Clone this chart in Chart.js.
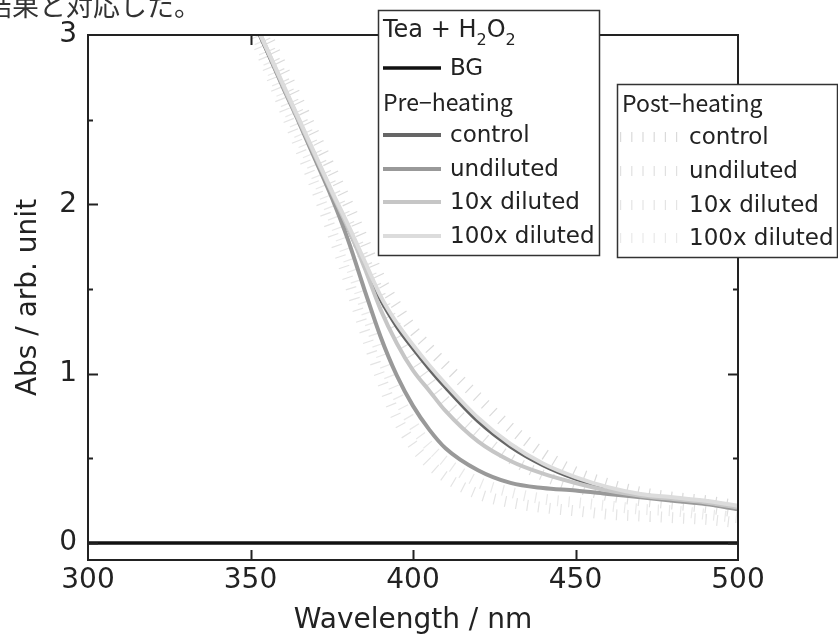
<!DOCTYPE html>
<html>
<head>
<meta charset="utf-8">
<script src="https://cdn.jsdelivr.net/npm/chart.js@4.4.1/dist/chart.umd.min.js"></script>
<style>
  html, body { margin: 0; padding: 0; background: #fff; overflow: hidden; }
  canvas { display: block; }
</style>
</head>
<body>
<canvas id="chart" width="838" height="644"></canvas>
<script>
// wavelength grid (nm) shared by the spectra
const wavelengths = [350, 355, 360, 365, 370, 375, 380, 385, 390, 395, 400, 405, 410, 420, 430, 440, 450, 460, 470, 480, 490, 500];

// background line
const bgWavelengths = [300, 500];
const bgValues = [0, 0];

// pre-heating spectra
const preControl = [3.12, 2.91, 2.70, 2.49, 2.28, 2.07, 1.86, 1.65, 1.44, 1.28, 1.15, 1.03, 0.92, 0.72, 0.57, 0.46, 0.38, 0.32, 0.285, 0.265, 0.245, 0.215];
const preUndiluted = [3.13, 2.91, 2.69, 2.48, 2.26, 2.04, 1.79, 1.50, 1.22, 0.99, 0.81, 0.67, 0.56, 0.43, 0.355, 0.325, 0.31, 0.29, 0.27, 0.25, 0.23, 0.20];
const pre10x = [3.13, 2.92, 2.70, 2.49, 2.28, 2.07, 1.86, 1.63, 1.38, 1.18, 1.02, 0.90, 0.78, 0.60, 0.485, 0.41, 0.355, 0.31, 0.28, 0.26, 0.24, 0.21];
const pre100x = [3.13, 2.92, 2.71, 2.50, 2.29, 2.08, 1.88, 1.67, 1.46, 1.30, 1.17, 1.05, 0.94, 0.74, 0.585, 0.47, 0.39, 0.33, 0.29, 0.27, 0.25, 0.22];

// post-heating spectra
const postControl = [3.20, 3.00, 2.80, 2.60, 2.40, 2.20, 2.00, 1.78, 1.56, 1.40, 1.26, 1.15, 1.05, 0.86, 0.68, 0.53, 0.42, 0.35, 0.30, 0.27, 0.25, 0.22];
const postUndiluted = [3.15, 2.95, 2.74, 2.53, 2.32, 2.11, 1.90, 1.68, 1.46, 1.27, 1.10, 0.96, 0.84, 0.65, 0.50, 0.40, 0.33, 0.28, 0.25, 0.23, 0.21, 0.18];
const post10x = [3.05, 2.82, 2.58, 2.34, 2.10, 1.84, 1.56, 1.26, 0.98, 0.74, 0.58, 0.47, 0.39, 0.29, 0.24, 0.21, 0.19, 0.17, 0.16, 0.15, 0.14, 0.12];
const post100x = [3.08, 2.86, 2.63, 2.41, 2.18, 1.94, 1.68, 1.40, 1.12, 0.88, 0.70, 0.57, 0.48, 0.36, 0.30, 0.26, 0.24, 0.22, 0.20, 0.19, 0.17, 0.15];

const seriesLabels = ['control', 'undiluted', '10x diluted', '100x diluted'];
const xTickValues = [300, 350, 400, 450, 500];
const xTickLabels = ['300', '350', '400', '450', '500'];
const yTickValues = [0, 1, 2, 3];
const yTickLabels = ['0', '1', '2', '3'];

const FONT = '"DejaVu Sans", sans-serif';
const JFONT = '"Noto Sans CJK JP", sans-serif';

function pts(xs, ys) {
  return xs.map((x, i) => ({ x: x, y: ys[i] }));
}

function solid(label, ys, color, order) {
  return {
    label: label, data: pts(wavelengths, ys), group: 'pre',
    borderColor: color, borderWidth: 4, order: order,
    cubicInterpolationMode: 'monotone'
  };
}

function hatched(label, ys, color, order) {
  return {
    label: label, data: pts(wavelengths, ys), group: 'post',
    borderColor: color, borderWidth: 11, borderDash: [1.2, 10], borderCapStyle: 'butt',
    order: order, cubicInterpolationMode: 'monotone'
  };
}

const datasets = [
  { label: 'BG', data: pts(bgWavelengths, bgValues), group: 'bg', borderColor: '#111', borderWidth: 3.5, order: 0 },
  solid(seriesLabels[3], pre100x, '#dcdcdc', 1),
  solid(seriesLabels[2], pre10x, '#c6c6c6', 2),
  solid(seriesLabels[1], preUndiluted, '#999999', 3),
  solid(seriesLabels[0], preControl, '#666666', 4),
  hatched(seriesLabels[0], postControl, '#dadada', 5),
  hatched(seriesLabels[1], postUndiluted, '#e0e0e0', 6),
  hatched(seriesLabels[2], post10x, '#e4e4e4', 7),
  hatched(seriesLabels[3], post100x, '#e9e9e9', 8)
];

// frame and inward ticks
const framePlugin = {
  id: 'frame',
  afterDatasetsDraw(chart) {
    const { ctx, chartArea: a, scales: { x, y } } = chart;
    ctx.save();
    ctx.strokeStyle = '#222';
    ctx.lineWidth = 2;
    ctx.strokeRect(a.left, a.top, a.right - a.left, a.bottom - a.top);
    ctx.beginPath();
    x.ticks.forEach(t => {
      if (t.value <= x.min || t.value >= x.max) return;
      const px = Math.round(x.getPixelForValue(t.value)) + 0.5;
      ctx.moveTo(px, a.bottom); ctx.lineTo(px, a.bottom - 10);
      ctx.moveTo(px, a.top); ctx.lineTo(px, a.top + 10);
    });
    y.ticks.forEach(t => {
      if (t.value < 0 || t.value >= y.max) return;
      const py = Math.round(y.getPixelForValue(t.value)) + 0.5;
      const len = Number.isInteger(t.value) ? 10 : 5;
      ctx.moveTo(a.left, py); ctx.lineTo(a.left + len, py);
      ctx.moveTo(a.right, py); ctx.lineTo(a.right - len, py);
    });
    ctx.stroke();
    ctx.restore();
  }
};

function drawSample(ctx, ds, x1, x2, yy) {
  ctx.save();
  ctx.strokeStyle = ds.borderColor;
  ctx.lineWidth = ds.group === 'post' ? 10 : ds.borderWidth;
  ctx.lineCap = 'butt';
  ctx.setLineDash(ds.borderDash || []);
  ctx.beginPath();
  ctx.moveTo(x1, yy); ctx.lineTo(x2, yy);
  ctx.stroke();
  ctx.restore();
}

// legend boxes and caption
const legendPlugin = {
  id: 'boxLegend',
  afterDraw(chart) {
    const ctx = chart.ctx;
    const ds = chart.data.datasets;
    ctx.save();

    // caption text cut at the top of the page
    ctx.fillStyle = '#333';
    ctx.font = '27px ' + JFONT;
    ctx.textBaseline = 'alphabetic';
    ctx.fillText('結果と対応した。', -15, 16);

    // box 1
    ctx.fillStyle = '#fff';
    ctx.fillRect(378, 10, 221, 245);
    ctx.strokeStyle = '#333';
    ctx.lineWidth = 1.5;
    ctx.strokeRect(378.5, 10.5, 221, 245);

    ctx.fillStyle = '#222';
    ctx.textBaseline = 'alphabetic';
    let tx = 383;
    const big = '24px ' + FONT, sub = '16px ' + FONT;
    ctx.font = big; ctx.fillText('Tea + H', tx, 37); tx += ctx.measureText('Tea + H').width;
    ctx.font = sub; ctx.fillText('2', tx, 45); tx += ctx.measureText('2').width;
    ctx.font = big; ctx.fillText('O', tx, 37); tx += ctx.measureText('O').width;
    ctx.font = sub; ctx.fillText('2', tx, 45);

    ctx.font = '23px ' + FONT;
    ctx.textBaseline = 'middle';
    const bg = ds.find(d => d.group === 'bg');
    drawSample(ctx, bg, 383, 441, 68);
    ctx.fillText(bg.label, 450, 69);

    ctx.font = '23px ' + JFONT;
    ctx.textBaseline = 'alphabetic';
    ctx.fillText('Pre\u2212heating', 383, 111);

    const preRows = [135, 169, 202, 236];
    ctx.font = '23px ' + FONT;
    ctx.textBaseline = 'middle';
    seriesLabels.forEach((lab, i) => {
      const d = ds.find(s => s.group === 'pre' && s.label === lab);
      drawSample(ctx, d, 383, 441, preRows[i]);
      ctx.fillStyle = '#222';
      ctx.fillText(lab, 450, preRows[i] + 1);
    });

    // box 2
    ctx.fillStyle = '#fff';
    ctx.fillRect(617, 84, 220, 173);
    ctx.strokeStyle = '#333';
    ctx.lineWidth = 1.5;
    ctx.strokeRect(617.5, 84.5, 220, 173);

    ctx.fillStyle = '#222';
    ctx.font = '23px ' + JFONT;
    ctx.textBaseline = 'alphabetic';
    ctx.fillText('Post\u2212heating', 622, 112);

    const postRows = [137, 171, 205, 238];
    ctx.font = '23px ' + FONT;
    ctx.textBaseline = 'middle';
    seriesLabels.forEach((lab, i) => {
      const d = ds.find(s => s.group === 'post' && s.label === lab);
      drawSample(ctx, d, 620, 681, postRows[i]);
      ctx.fillStyle = '#222';
      ctx.fillText(lab, 689, postRows[i] + 1);
    });

    ctx.restore();
  }
};

new Chart(document.getElementById('chart').getContext('2d'), {
  type: 'line',
  data: { datasets: datasets },
  options: {
    responsive: false,
    animation: false,
    layout: { padding: { top: 35, right: 100, left: 0, bottom: 0 } },
    elements: { point: { radius: 0 }, line: { tension: 0.4 } },
    plugins: { legend: { display: false }, tooltip: { enabled: false } },
    scales: {
      x: {
        type: 'linear', min: 300, max: 500,
        grid: { display: false, drawTicks: false },
        border: { display: false },
        ticks: {
          stepSize: 50, autoSkip: false, maxRotation: 0, padding: 4,
          color: '#222', font: { family: FONT, size: 28 },
          callback: v => { const i = xTickValues.indexOf(v); return i < 0 ? '' : xTickLabels[i]; }
        },
        title: { display: true, text: 'Wavelength / nm', color: '#222', font: { family: FONT, size: 28 }, padding: { top: 0, bottom: 6 } },
        afterFit: s => { s.height = 84; }
      },
      y: {
        type: 'linear', min: -0.1, max: 3,
        grid: { display: false, drawTicks: false },
        border: { display: false },
        ticks: {
          stepSize: 0.5, includeBounds: false, autoSkip: false, padding: 11,
          color: '#222', font: { family: FONT, size: 28 },
          callback: v => { const i = yTickValues.indexOf(v); return i < 0 ? '' : yTickLabels[i]; }
        },
        title: { display: true, text: 'Abs / arb. unit', color: '#222', font: { family: FONT, size: 28 }, padding: { top: 12, bottom: 0 } },
        afterFit: s => { s.width = 88; }
      }
    }
  },
  plugins: [framePlugin, legendPlugin]
});
</script>
</body>
</html>
